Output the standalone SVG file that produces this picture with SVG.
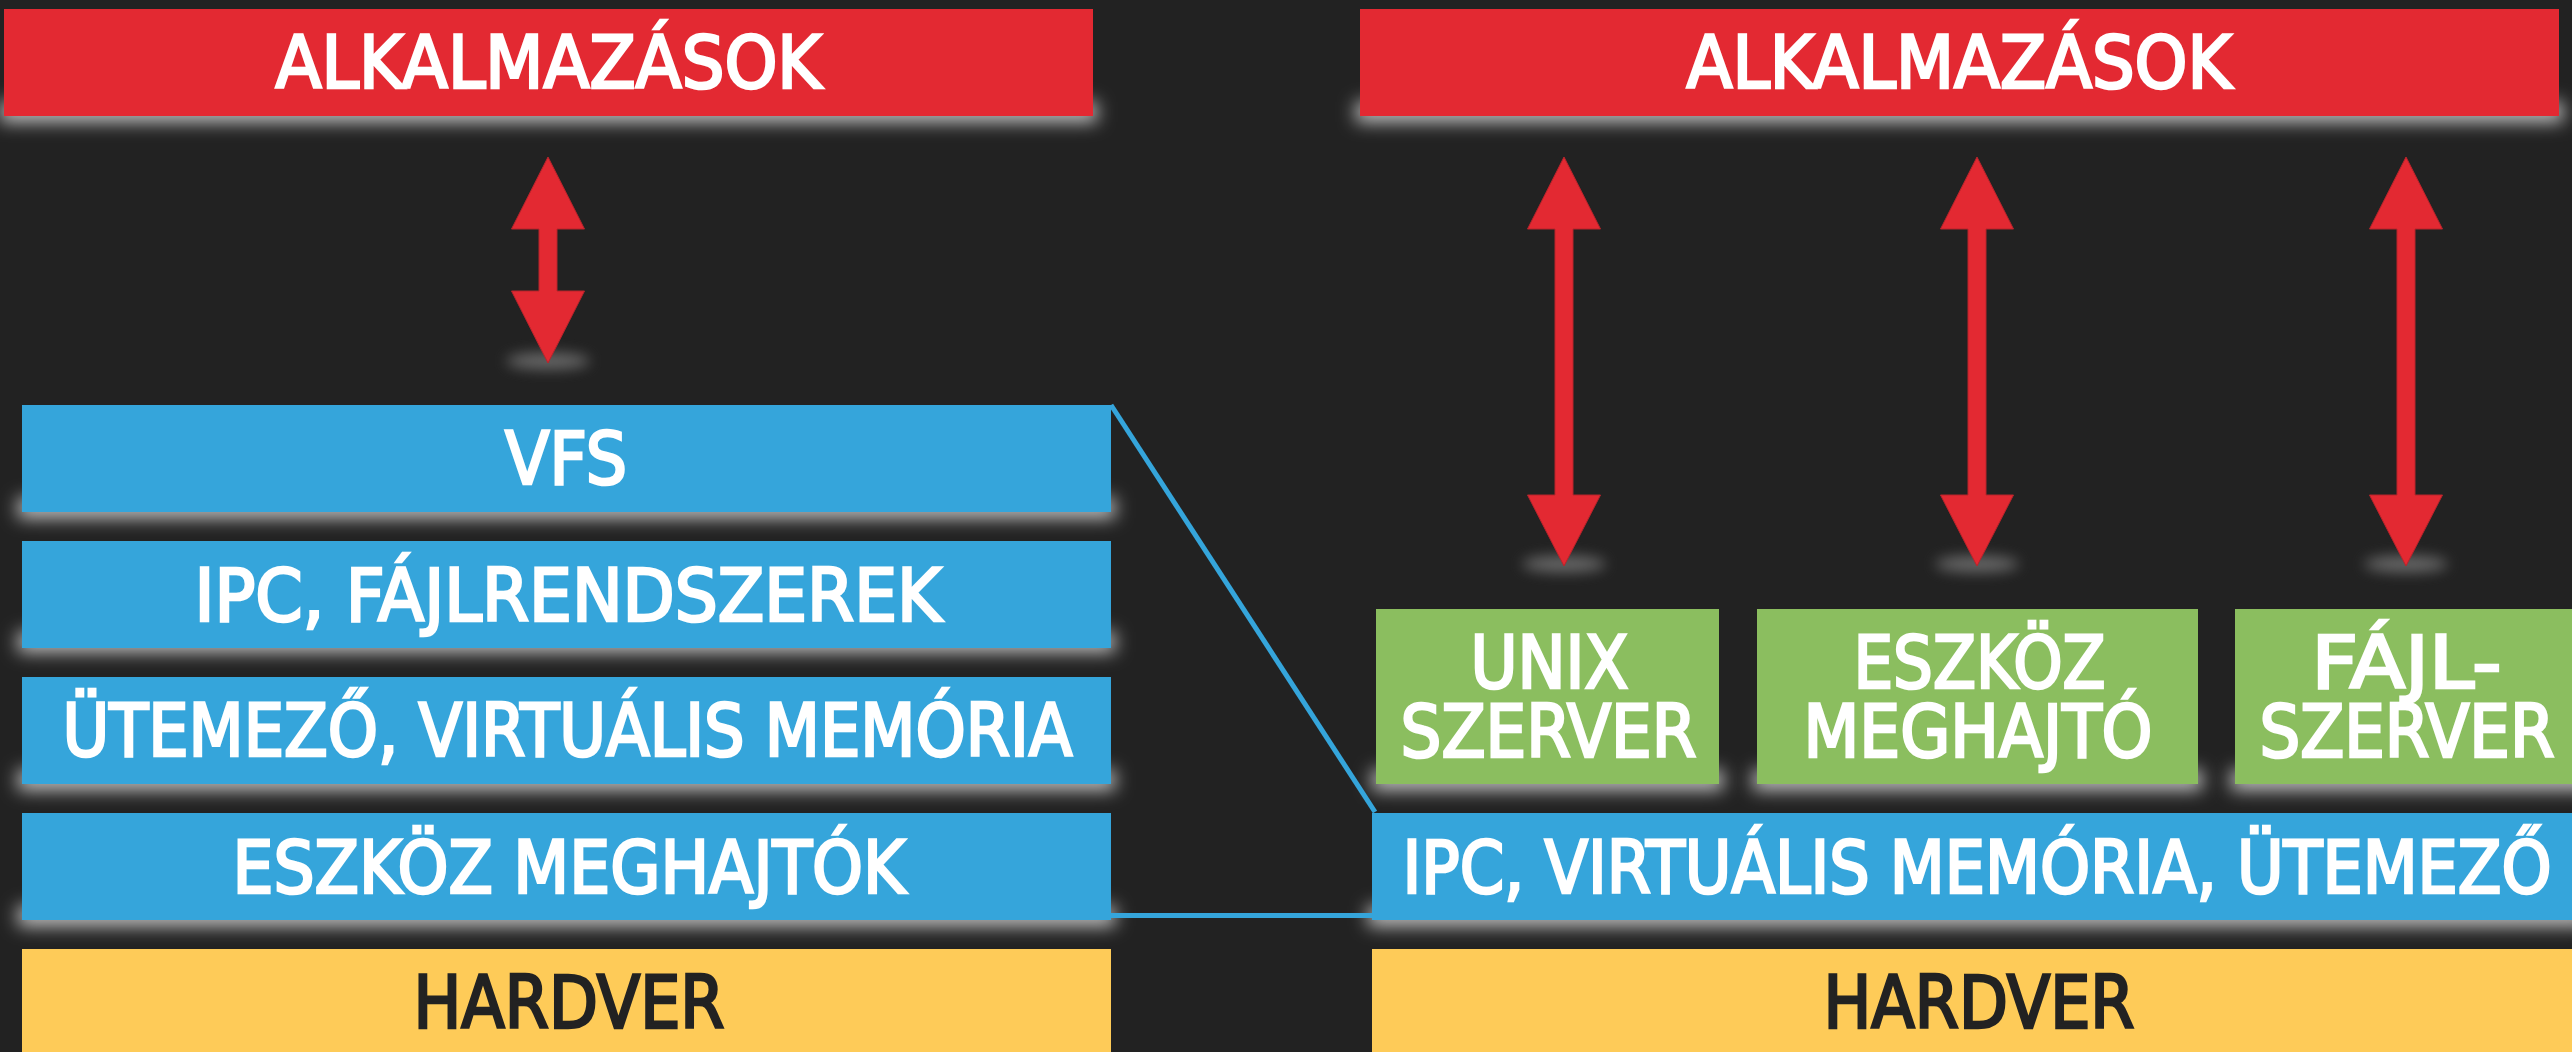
<svg xmlns="http://www.w3.org/2000/svg" width="2572" height="1052" viewBox="0 0 2572 1052">
  <defs>
    <filter id="glow" x="-10%" y="-200%" width="120%" height="500%">
      <feGaussianBlur stdDeviation="9"/>
    </filter>
    <filter id="tipglow" x="-100%" y="-300%" width="300%" height="700%">
      <feGaussianBlur stdDeviation="7"/>
    </filter>
    <style>
      .bg { fill: #222222; }
      .red { fill: #E32932; }
      .blue { fill: #35A5DB; }
      .green { fill: #8BBE5F; }
      .yellow { fill: #FECB58; }
      .shade { fill: #c8c8c8; filter: url(#glow); }
      .tip { fill: #9a9a9a; opacity: 0.6; filter: url(#tipglow); }
      .arrow { fill: #E32932; stroke: #b8242b; stroke-width: 1; }
      .link { fill: none; stroke: #35A5DB; stroke-width: 5; }
      text {
        font-family: "DejaVu Sans", "Liberation Sans", sans-serif;
        font-stretch: condensed;
        font-weight: normal;
        font-size: 73px;
        text-anchor: middle;
        fill: #ffffff;
        stroke: #ffffff;
        stroke-width: 2.6;
        stroke-linejoin: miter;
      }
      text.dark { fill: #222222; stroke: #222222; }
    </style>
  </defs>

  <rect class="bg" x="0" y="0" width="2572" height="1052"/>

  <!-- soft light halos under each block -->
  <g id="halos">
    <rect class="shade" x="0" y="102" width="1097" height="20"/>
    <rect class="shade" x="1356" y="102" width="1207" height="20"/>
    <rect class="shade" x="18" y="498" width="1097" height="20"/>
    <rect class="shade" x="18" y="632" width="1097" height="20"/>
    <rect class="shade" x="18" y="770" width="1097" height="20"/>
    <rect class="shade" x="18" y="906" width="1097" height="20"/>
    <rect class="shade" x="1372" y="770" width="351" height="20"/>
    <rect class="shade" x="1753" y="770" width="449" height="20"/>
    <rect class="shade" x="2231" y="770" width="360" height="20"/>
    <rect class="shade" x="1368" y="906" width="1220" height="20"/>
    <ellipse class="tip" cx="548" cy="361" rx="42" ry="8"/>
    <ellipse class="tip" cx="1564" cy="564" rx="42" ry="8"/>
    <ellipse class="tip" cx="1977" cy="564" rx="42" ry="8"/>
    <ellipse class="tip" cx="2406" cy="564" rx="42" ry="8"/>
  </g>

  <!-- connectors: double-headed arrows and the mapping lines -->
  <g id="connectors">
    <polygon class="arrow" points="548,157 584.5,229 557,229 557,291 584.5,291 548,363 511.5,291 539,291 539,229 511.5,229"/>
    <polygon class="arrow" points="1564,157 1600.5,229 1573,229 1573,495 1600.5,495 1564,566 1527.5,495 1555,495 1555,229 1527.5,229"/>
    <polygon class="arrow" points="1977,157 2013.5,229 1986,229 1986,495 2013.5,495 1977,566 1940.5,495 1968,495 1968,229 1940.5,229"/>
    <polygon class="arrow" points="2406,157 2442.5,229 2415,229 2415,495 2442.5,495 2406,566 2369.5,495 2397,495 2397,229 2369.5,229"/>
    <polyline class="link" points="1111,405 1375,812"/>
    <polyline class="link" points="1111,915.5 1373,915.5"/>
  </g>

  <!-- left stack: monolithic kernel -->
  <g id="apps-left">
    <rect class="red" x="4" y="9" width="1089" height="107"/>
    <text x="548.5" y="88" textLength="546" lengthAdjust="spacingAndGlyphs">ALKALMAZÁSOK</text>
  </g>
  <g id="vfs">
    <rect class="blue" x="22" y="405" width="1089" height="107"/>
    <text x="566" y="484" textLength="122" lengthAdjust="spacingAndGlyphs">VFS</text>
  </g>
  <g id="ipc-fs">
    <rect class="blue" x="22" y="541" width="1089" height="107"/>
    <text x="568" y="621" textLength="747" lengthAdjust="spacingAndGlyphs">IPC, FÁJLRENDSZEREK</text>
  </g>
  <g id="sched-vm">
    <rect class="blue" x="22" y="677" width="1089" height="107"/>
    <text x="567.5" y="756" textLength="1010" lengthAdjust="spacingAndGlyphs">ÜTEMEZŐ, VIRTUÁLIS MEMÓRIA</text>
  </g>
  <g id="drivers">
    <rect class="blue" x="22" y="813" width="1089" height="107"/>
    <text x="569" y="893" textLength="673" lengthAdjust="spacingAndGlyphs">ESZKÖZ MEGHAJTÓK</text>
  </g>
  <g id="hw-left">
    <rect class="yellow" x="22" y="949" width="1089" height="103"/>
    <text class="dark" x="569" y="1028" textLength="311" lengthAdjust="spacingAndGlyphs">HARDVER</text>
  </g>

  <!-- right stack: microkernel -->
  <g id="apps-right">
    <rect class="red" x="1360" y="9" width="1199" height="107"/>
    <text x="1959" y="88" textLength="545" lengthAdjust="spacingAndGlyphs">ALKALMAZÁSOK</text>
  </g>
  <g id="unix-server">
    <rect class="green" x="1376" y="609" width="343" height="175"/>
    <text x="1549.5" y="688" textLength="158" lengthAdjust="spacingAndGlyphs">UNIX</text>
    <text x="1548.5" y="757" textLength="296" lengthAdjust="spacingAndGlyphs">SZERVER</text>
  </g>
  <g id="device-driver">
    <rect class="green" x="1757" y="609" width="441" height="175"/>
    <text x="1979.5" y="688" textLength="252" lengthAdjust="spacingAndGlyphs">ESZKÖZ</text>
    <text x="1978" y="757" textLength="349" lengthAdjust="spacingAndGlyphs">MEGHAJTÓ</text>
  </g>
  <g id="file-server">
    <rect class="green" x="2235" y="609" width="337" height="175"/>
    <text x="2406.5" y="688" textLength="190" lengthAdjust="spacingAndGlyphs">FÁJL-</text>
    <text x="2407" y="757" textLength="295" lengthAdjust="spacingAndGlyphs">SZERVER</text>
  </g>
  <g id="microkernel">
    <rect class="blue" x="1372" y="813" width="1200" height="107"/>
    <text x="1977" y="893" textLength="1149" lengthAdjust="spacingAndGlyphs">IPC, VIRTUÁLIS MEMÓRIA, ÜTEMEZŐ</text>
  </g>
  <g id="hw-right">
    <rect class="yellow" x="1372" y="949" width="1200" height="103"/>
    <text class="dark" x="1979" y="1028" textLength="311" lengthAdjust="spacingAndGlyphs">HARDVER</text>
  </g>
</svg>
